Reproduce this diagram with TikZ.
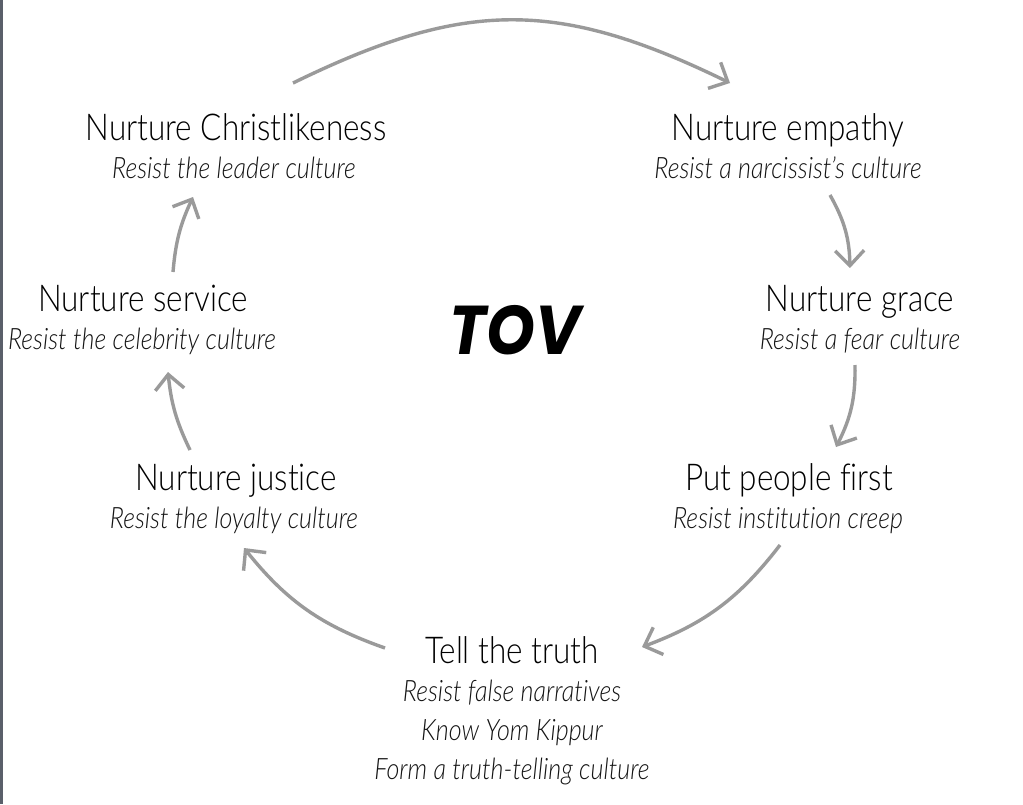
\documentclass[tikz,border=0pt]{standalone}
\usepackage{fontspec}
\usetikzlibrary{arrows.meta}
\IfFontExistsTF{Lato Light Italic}{%
  \newfontfamily\ttlfont{Lato Light}[FakeStretch=0.85,Ligatures=NoCommon]
  \newfontfamily\subfont{Lato Light Italic}[FakeStretch=0.85,Ligatures=NoCommon]
}{%
  \newfontfamily\ttlfont{Lato}[FakeStretch=0.85,Ligatures=NoCommon]
  \newfontfamily\subfont{Lato Italic}[FakeStretch=0.85,Ligatures=NoCommon]
}
\IfFontExistsTF{Poppins Bold Italic}{%
  \newfontfamily\tovfont{Poppins Bold Italic}[FakeStretch=0.9]
}{%
  \newfontfamily\tovfont{Liberation Sans Bold Italic}[FakeStretch=0.9]
}
\definecolor{arrowgray}{HTML}{9A9A9A}
\definecolor{framegray}{HTML}{5A5F6A}
\definecolor{subgray}{HTML}{141414}
\begin{document}
\begin{tikzpicture}[x=1pt,y=-1pt,
  ttl/.style={anchor=base,inner sep=0pt,text=black,font=\ttlfont\fontsize{37}{40}\selectfont},
  sub/.style={anchor=base,inner sep=0pt,text=subgray,font=\subfont\fontsize{29.5}{32}\selectfont},
  cyc/.style={draw=arrowgray,line width=3.4pt,-{Straight Barb[length=15pt,width=29pt]}}]
\useasboundingbox[fill=white] (0,0) rectangle (1023,804);
\fill[framegray] (0,0) rectangle (2.5,804);
% nodes
\node[ttl] (chr) at (236,140) {Nurture Christlikeness};
\node[sub] (chrs) at (234,178) {Resist the leader culture};
\node[ttl] (emp) at (788,140) {Nurture empathy};
\node[sub] (emps) at (788,178) {Resist a narcissist’s culture};
\node[ttl] (ser) at (143,311) {Nurture service};
\node[sub] (sers) at (142,349) {Resist the celebrity culture};
\node[ttl] (gra) at (860,311) {Nurture grace};
\node[sub] (gras) at (860,349) {Resist a fear culture};
\node[ttl] (jus) at (236,490) {Nurture justice};
\node[sub] (juss) at (234,528) {Resist the loyalty culture};
\node[ttl] (ppl) at (789,490) {Put people first};
\node[sub] (ppls) at (788,528) {Resist institution creep};
\node[ttl] (tru) at (512,663) {Tell the truth};
\node[sub] (trua) at (512,701) {Resist false narratives};
\node[sub] (trub) at (512,740) {Know Yom Kippur};
\node[sub] (truc) at (512,779) {Form a truth-telling culture};
\node[anchor=base,inner sep=0pt,font=\tovfont\fontsize{69}{70}\selectfont] (tov) at (515,354) {TOV};
% arrow end points
\coordinate (a1s) at (293,83);  \coordinate (a1e) at (730,83);
\coordinate (a2s) at (830,195); \coordinate (a2e) at (850,268);
\coordinate (a3s) at (855,365); \coordinate (a3e) at (836,447);
\coordinate (a4s) at (780,545); \coordinate (a4e) at (642,647);
\coordinate (a5s) at (385,648); \coordinate (a5e) at (244,548);
\coordinate (a6s) at (190,450); \coordinate (a6e) at (168,372);
\coordinate (a7s) at (173,272); \coordinate (a7e) at (193,197);
\draw[cyc] (a1s) .. controls (465,-1) and (558,-1) .. (a1e);
\draw[cyc] (a2s) to[bend left=14] (a2e);
\draw[cyc] (a3s) to[bend left=14] (a3e);
\draw[cyc] (a4s) to[bend left=16] (a4e);
\draw[cyc] (a5s) to[bend left=16] (a5e);
\draw[cyc] (a6s) to[bend left=10] (a6e);
\draw[cyc] (a7s) to[bend left=10] (a7e);
\end{tikzpicture}
\end{document}
